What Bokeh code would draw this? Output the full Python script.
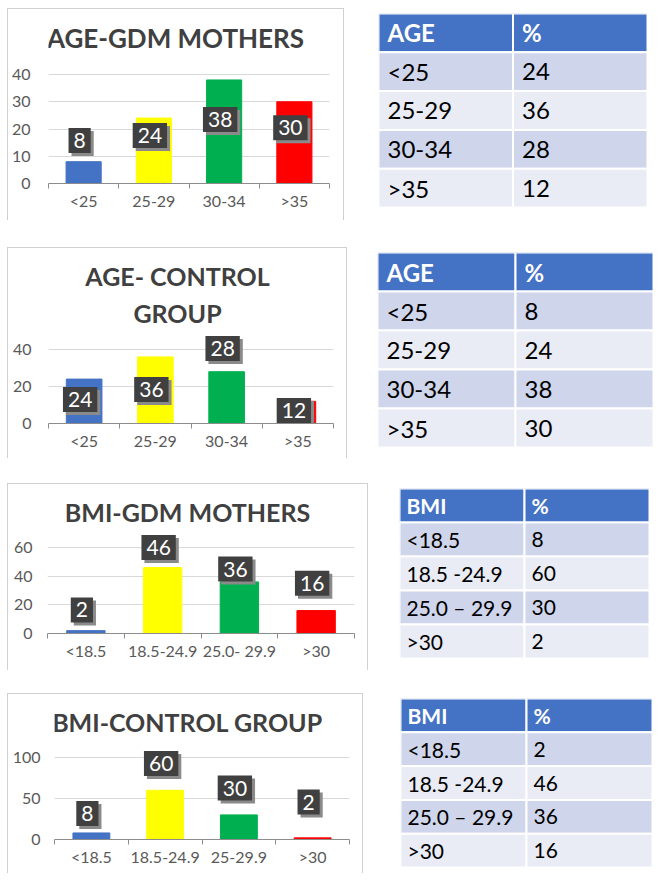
from bokeh.plotting import figure
from bokeh.models import Range1d, FixedTicker, Label, Spacer
from bokeh.layouts import row, column
from bokeh.core.properties import value
from bokeh.embed import file_html
from bokeh.resources import INLINE

# ---------------- data ----------------
age_cats = ["<25", "25-29", "30-34", ">35"]
bmi_gdm_cats = ["<18.5", "18.5-24.9", "25.0- 29.9", ">30"]
bmi_ctrl_cats = ["<18.5", "18.5-24.9", "25-29.9", ">30"]

age_gdm_vals = [8, 24, 38, 30]
age_ctrl_vals = [24, 36, 28, 12]
bmi_gdm_vals = [2, 46, 36, 16]
bmi_ctrl_vals = [8, 60, 30, 2]

bar_colors = ["#4472C4", "#FFFF00", "#00B050", "#FF0000"]

age_gdm_ticks = [0, 10, 20, 30, 40]
age_ctrl_ticks = [0, 20, 40]
bmi_gdm_ticks = [0, 20, 40, 60]
bmi_ctrl_ticks = [0, 50, 100]

# where the data-label boxes sit (in axis units)
age_gdm_label_y = [15.8, 17.6, 23.5, 20.5]
age_ctrl_label_y = [13, 18.4, 40.5, 7]
bmi_gdm_label_y = [16.4, 60, 45, 35]
bmi_ctrl_label_y = [31.7, 92.7, 62.8, 45.7]

age_header = ["AGE", "%"]
age_rows = ["<25", "25-29", "30-34", ">35"]
age_table1_pct = [24, 36, 28, 12]
age_table2_pct = [8, 24, 38, 30]
bmi_header = ["BMI", "%"]
bmi_rows = ["<18.5", "18.5 -24.9", "25.0 \u2013 29.9", ">30"]
bmi_table1_pct = [8, 60, 30, 2]
bmi_table2_pct = [2, 46, 36, 16]

FONT = "Lato"
GRAY = "#595959"


def bar_chart(cats, vals, ticks, label_y, titles, box, frame, title_size, ylab_right):
    bx0, by0, bx1, by1 = box
    fx0, fy0, fx1, fy1 = frame
    n = len(cats)
    ppu = (fy1 - fy0) / ticks[-1]
    y_end = (fy1 - by0) / ppu          # frame reaches up to the box top
    p = figure(width=bx1 - bx0, height=by1 - by0,
               x_range=Range1d(-0.5, n - 0.5), y_range=Range1d(0, y_end),
               output_backend="svg", toolbar_location=None, title=None,
               min_border_left=fx0 - bx0, min_border_right=bx1 - fx1,
               min_border_top=0, min_border_bottom=by1 - fy1)
    p.outline_line_color = None
    p.styles = {"border": "1px solid #d0d0d0", "border-bottom": "none",
                "box-sizing": "border-box"}

    p.vbar(x=list(range(n)), top=vals, width=0.5, color=bar_colors)

    xa = p.xaxis[0]
    xa.ticker = FixedTicker(ticks=list(range(n)),
                            minor_ticks=[i - 0.5 for i in range(n + 1)])
    xa.major_label_overrides = {i: c for i, c in enumerate(cats)}
    xa.axis_line_color = "#8c8c8c"
    xa.major_tick_line_color = None
    xa.major_tick_out = 0
    xa.major_tick_in = 0
    xa.minor_tick_line_color = "#8c8c8c"
    xa.minor_tick_out = 5
    xa.minor_tick_in = 0
    xa.major_label_standoff = 2
    xa.major_label_text_font = FONT
    xa.major_label_text_font_size = "16px"
    xa.major_label_text_color = GRAY

    ya = p.yaxis[0]
    ya.ticker = FixedTicker(ticks=ticks)
    ya.axis_line_color = None
    ya.major_tick_line_color = None
    ya.minor_tick_line_color = None
    ya.major_tick_out = 0
    ya.major_tick_in = 0
    ya.major_label_standoff = fx0 - ylab_right
    ya.major_label_text_font = FONT
    ya.major_label_text_font_size = "16px"
    ya.major_label_text_color = GRAY

    p.xgrid.visible = False
    p.ygrid.grid_line_color = "#d9d9d9"

    for i, v in enumerate(vals):
        common = dict(x=i, y=label_y[i], text=str(v), text_align="center",
                      text_baseline="middle", text_font=FONT,
                      text_font_size="21px", padding=5)
        p.add_layout(Label(x_offset=-1, y_offset=-3, text_color="#8a8a8a",
                           background_fill_color="#8a8a8a", **common))
        p.add_layout(Label(x_offset=-4, y_offset=0, text_color="white",
                           background_fill_color="#404040", **common))

    for text, cx, base in titles:
        p.add_layout(Label(x=cx - fx0, y=fy1 - base + 11, x_units="screen", y_units="screen",
                           text=text, text_align="center", text_baseline="alphabetic",
                           text_font=FONT, text_font_style="bold",
                           text_font_size=title_size, text_color="#404040"))
    return p


def table_fig(header, rows, pct, box, font_size, pad):
    x0, y0, x1, y1 = box
    nrow = len(rows) + 1
    p = figure(width=x1 - x0, height=y1 - y0, x_range=Range1d(0, 2),
               y_range=Range1d(nrow, 0), output_backend="svg",
               toolbar_location=None, title=None, min_border=0,
               x_axis_type=None, y_axis_type=None)
    p.outline_line_color = None
    p.grid.visible = False
    xs, ys, fills = [], [], []
    for r in range(nrow):
        for c in range(2):
            xs.append(c + 0.5)
            ys.append(r + 0.5)
            if r == 0:
                fills.append("#4472C4")
            elif r % 2 == 1:
                fills.append("#CFD5EA")
            else:
                fills.append("#E9EBF5")
    p.rect(x=xs, y=ys, width=1, height=1, fill_color=fills,
           line_color="white", line_width=2)
    p.text(x=[0, 1], y=[0.5, 0.5], text=header, x_offset=pad,
           text_baseline="middle", text_font=value(FONT), text_font_style="bold",
           text_font_size=font_size, text_color="white")
    ry = [r + 1.5 for r in range(len(rows))]
    p.text(x=[0] * len(rows), y=ry, text=rows, x_offset=pad,
           text_baseline="middle", text_font=value(FONT),
           text_font_size=font_size, text_color="black")
    p.text(x=[1] * len(rows), y=ry, text=[str(v) for v in pct], x_offset=pad,
           text_baseline="middle", text_font=value(FONT),
           text_font_size=font_size, text_color="black")
    return p


c1 = bar_chart(age_cats, age_gdm_vals, age_gdm_ticks, age_gdm_label_y,
               [("AGE-GDM MOTHERS", 174, 47)], (7, 8, 344, 220), (47, 73, 328, 182), "26px", 29)
c2 = bar_chart(age_cats, age_ctrl_vals, age_ctrl_ticks, age_ctrl_label_y,
               [("AGE- CONTROL", 176, 285), ("GROUP", 176, 322)],
               (7, 247, 347, 458), (47, 348, 332, 422), "25px", 30)
c3 = bar_chart(bmi_gdm_cats, bmi_gdm_vals, bmi_gdm_ticks, bmi_gdm_label_y,
               [("BMI-GDM MOTHERS", 186, 521)], (7, 483, 368, 670), (46, 546, 353, 632), "25px", 31)
c4 = bar_chart(bmi_ctrl_cats, bmi_ctrl_vals, bmi_ctrl_ticks, bmi_ctrl_label_y,
               [("BMI-CONTROL GROUP", 186, 731)], (7, 693, 363, 873), (53, 756, 348, 838), "25px", 39)

t1 = table_fig(age_header, age_rows, age_table1_pct, (378, 13, 647, 207), "24px", 9)
t2 = table_fig(age_header, age_rows, age_table2_pct, (377, 252, 653, 447), "24px", 9)
t3 = table_fig(bmi_header, bmi_rows, bmi_table1_pct, (399, 488, 649, 658), "21px", 7)
t4 = table_fig(bmi_header, bmi_rows, bmi_table2_pct, (400, 698, 652, 867), "21px", 7)


def band(items, top):
    children = []
    cur_x = 0
    bottom = top
    for fig, x, y in items:
        children.append(Spacer(width=max(x - cur_x, 1), height=1))
        children.append(column(Spacer(width=fig.width, height=max(y - top, 1)), fig))
        cur_x = x + fig.width
        bottom = max(bottom, y + fig.height)
    return row(children), bottom


bands = [
    ([(c1, 7, 8), (t1, 378, 13)], 0),
    ([(c2, 7, 247), (t2, 377, 252)], 232),
    ([(c3, 7, 483), (t3, 399, 488)], 472),
    ([(c4, 7, 693), (t4, 400, 698)], 682),
]

kids = []
prev_bottom = 0
for items, top in bands:
    if top - prev_bottom > 0:
        kids.append(Spacer(width=10, height=top - prev_bottom))
    b, bottom = band(items, top)
    kids.append(b)
    prev_bottom = bottom

layout = column(kids)
open("out.html", "w").write(file_html(layout, INLINE))
